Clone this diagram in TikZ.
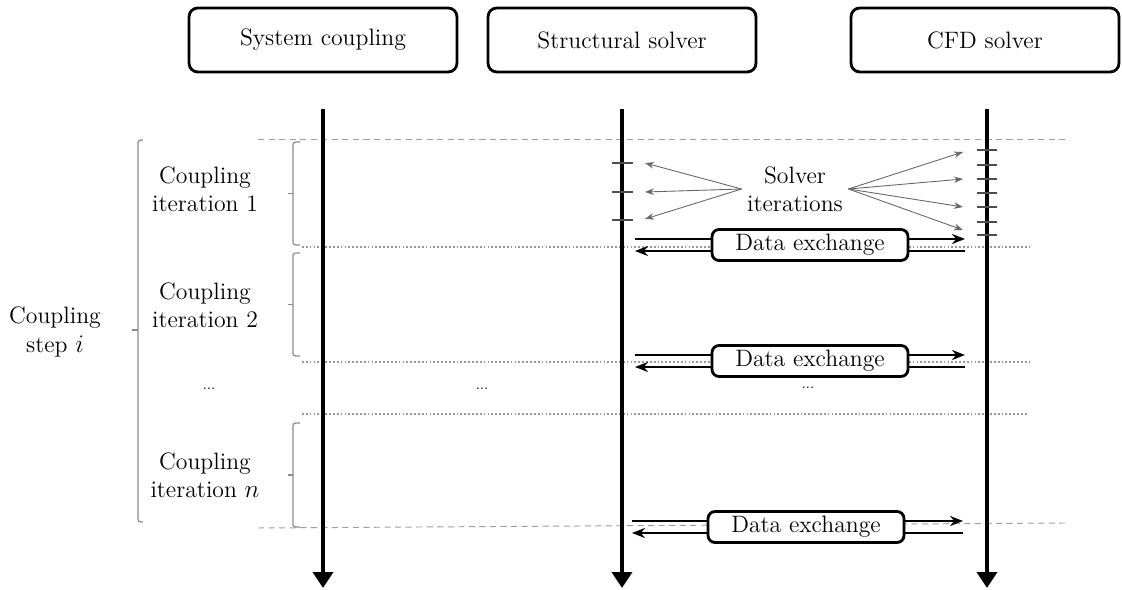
\documentclass[tikz,border=0pt]{standalone}
\usepackage{amsmath}
\usetikzlibrary{arrows.meta,positioning,calc}

\begin{document}
\begin{tikzpicture}[x=0.02cm,y=-0.02cm,
  font=\fontsize{13.5}{16}\selectfont,
  head/.style={draw,line width=1.6pt,rounded corners=5pt,minimum width=5.36cm,minimum height=1.28cm,inner sep=0pt},
  life/.style={line width=2.2pt,-{Triangle[width=0.4cm,length=0.32cm]}},
  xbox/.style={draw,line width=1.6pt,rounded corners=4pt,fill=white,minimum width=3.92cm,minimum height=0.62cm,inner sep=0pt},
  xarr/.style={line width=1.7pt,-{Stealth[length=0.26cm,width=0.2cm]}},
  sarr/.style={draw=black!60,line width=0.5pt,-{Stealth[length=0.18cm,width=0.13cm]}},
  itick/.style={draw=black!70,line width=0.6pt},
  brk/.style={draw=black!45,line width=0.7pt,rounded corners=1.5pt},
  sepdash/.style={draw=black!38,line width=0.55pt,dash pattern=on 3.5pt off 2.5pt},
  sepdot/.style={draw=black!40,line width=0.7pt,dash pattern=on 1pt off 1.2pt},
  lbl/.style={align=center,inner sep=0pt},
  tdots/.style={inner sep=0pt,font=\fontsize{8}{8}\selectfont}
]
\useasboundingbox (0,0) rectangle (1122,590);
\node[head] (sys) at (323,40) {System coupling};
\node[head] (str) at (622,40) {Structural solver};
\node[head] (cfd) at (985,40) {CFD solver};

\draw[sepdash] (258,139) -- (1065,139);
\draw[sepdash] (258,528) -- (1065,523);
\draw[sepdot] (302,247) -- (1030,247);
\draw[sepdot] (302,362) -- (1030,362);
\draw[sepdot] (302,414) -- (1028,414);

\coordinate (sysA) at (323,109); \coordinate (sysB) at (323,588);
\coordinate (strA) at (622,109); \coordinate (strB) at (622,588);
\coordinate (cfdA) at (987,109); \coordinate (cfdB) at (987,588);
\draw[life] (sysA) -- (sysB);
\draw[life] (strA) -- (strB);
\draw[life] (cfdA) -- (cfdB);

\draw[brk] (143,140) -- (138,140) -- (138,522) -- (143,522);
\draw[brk] (138,330) -- (132,330);
\foreach \t/\b in {142/245,253/356,423/527} {
  \draw[brk] (300,\t) -- (293,\t) -- (293,\b) -- (300,\b);
  \draw[brk] (293,{(\t+\b)/2}) -- (288,{(\t+\b)/2});
}

\node[lbl] (step) at (55,332) {Coupling\\step $i$};
\node[lbl] (it1) at (205,189) {Coupling\\iteration 1};
\node[lbl] (it2) at (205,305) {Coupling\\iteration 2};
\node[tdots] (d1) at (209,389) {...};
\node[lbl] (itn) at (205,475) {Coupling\\iteration $n$};
\node[tdots] (d2) at (482,389) {...};
\node[tdots] (d3) at (808,388) {...};

\node[lbl] (solv) at (795,189) {Solver\\iterations};
\foreach \y in {163,192,220} \draw[itick] (612,\y) -- (633,\y);
\foreach \y in {150,165,179,193,207,222,235} \draw[itick] (977,\y) -- (997,\y);
\foreach \y [count=\i] in {163,192,219} {
  \coordinate (sl\i) at (645,\y);
  \draw[sarr] ([xshift=-3pt]solv.west) -- (sl\i);
}
\foreach \y [count=\i] in {152,179,207,230} {
  \coordinate (sr\i) at (963,\y);
  \draw[sarr] ([xshift=3pt]solv.east) -- (sr\i);
}

\foreach \n/\y/\l/\r/\c in {1/245/635/965/810,2/361/635/965/810,3/527/632/963/806} {
  \coordinate (dxa\n) at (\l,\y-6); \coordinate (dxb\n) at (\r,\y-6);
  \coordinate (dxc\n) at (\r,\y+6); \coordinate (dxd\n) at (\l,\y+6);
  \draw[xarr] (dxa\n) -- (dxb\n);
  \draw[xarr] (dxc\n) -- (dxd\n);
  \node[xbox] (dx\n) at (\c,\y) {Data exchange};
}
\end{tikzpicture}
\end{document}
